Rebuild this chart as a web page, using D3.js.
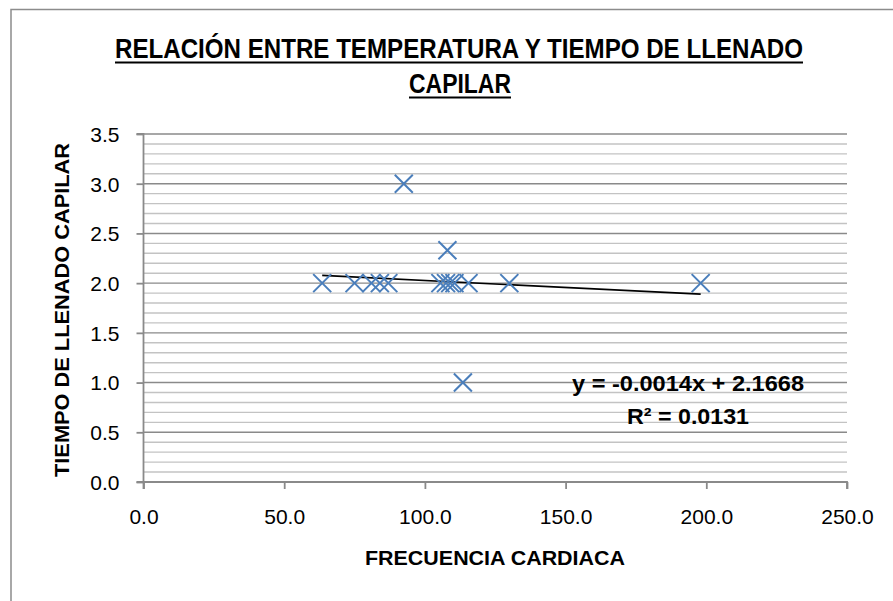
<!DOCTYPE html>
<html><head><meta charset="utf-8">
<script src="https://cdn.jsdelivr.net/npm/d3@7"></script>
<style>html,body{margin:0;padding:0;background:#fff;}svg{display:block;}</style>
</head><body>
<svg id="c" width="893" height="601"></svg>
<script>
const frecuencia = [63.5, 75, 81, 84, 87, 92.5, 105.5, 107.5, 108, 109, 110.5, 113.5, 115.5, 130, 198];
const tiempo     = [2.0, 2.0, 2.0, 2.0, 2.0, 3.0, 2.0, 2.0, 2.33, 2.0, 2.0, 1.0, 2.0, 2.0, 2.0];
const xTicks = [0, 50, 100, 150, 200, 250];
const yTicks = [0, 0.5, 1.0, 1.5, 2.0, 2.5, 3.0, 3.5];
const yMinor = d3.range(0, 35.5, 1).map(v => v / 10);
const trendSlope = -0.0014, trendIntercept = 2.1668, rSquared = 0.0131;
const titleLines = ["RELACIÓN ENTRE TEMPERATURA Y TIEMPO DE LLENADO", "CAPILAR"];
const xTitle = "FRECUENCIA CARDIACA";
const yTitle = "TIEMPO DE LLENADO CAPILAR";

const svg = d3.select("#c");
const L = 143.5, R = 847, T = 134, B = 482;
const x = d3.scaleLinear().domain([0, 250]).range([L, R]);
const y = d3.scaleLinear().domain([0, 3.5]).range([B, T]);
const font = "'Liberation Sans', Arial, sans-serif";

// chart frame
svg.append("rect").attr("x", 11).attr("y", 9.5).attr("width", 900).attr("height", 620)
  .attr("fill", "#fff").attr("stroke", "#8c8c8c").attr("stroke-width", 1.5);

// minor gridlines
svg.append("g").selectAll("line").data(yMinor.filter(v => Math.round(v*10) % 5 !== 0)).join("line")
  .attr("x1", L).attr("x2", R).attr("y1", d => y(d)).attr("y2", d => y(d))
  .attr("stroke", "#c3c3c3").attr("stroke-width", 1.4);
// major gridlines
svg.append("g").selectAll("line").data(yTicks.filter(v => v > 0)).join("line")
  .attr("x1", L).attr("x2", R).attr("y1", d => y(d)).attr("y2", d => y(d))
  .attr("stroke", "#8a8a8a").attr("stroke-width", 1.4);

// axes
const xAxis = svg.append("g").attr("transform", `translate(0,${B})`)
  .call(d3.axisBottom(x).tickValues(xTicks).tickFormat(d3.format(".1f")).tickSize(7).tickPadding(20));
const yAxis = svg.append("g").attr("transform", `translate(${L},0)`)
  .call(d3.axisLeft(y).tickValues(yTicks).tickFormat(d3.format(".1f")).tickSize(7).tickPadding(17));
[xAxis, yAxis].forEach(a => {
  a.select(".domain").attr("stroke", "#8a8a8a").attr("stroke-width", 1.8);
  a.selectAll(".tick line").attr("stroke", "#8a8a8a").attr("stroke-width", 1.8);
  a.selectAll(".tick text").attr("font-family", font).attr("font-size", 21).attr("fill", "#000");
});
xAxis.select(".domain").attr("d", `M${L},7V0H${R}V7`);
yAxis.select(".domain").attr("d", `M-7,${T}H0V${B}H-7`);
yAxis.selectAll(".tick text").attr("dy", "0.35em");

// trendline
const xMin = d3.min(frecuencia), xMax = d3.max(frecuencia);
svg.append("line")
  .attr("x1", x(xMin)).attr("y1", y(trendIntercept + trendSlope * xMin))
  .attr("x2", x(xMax)).attr("y2", y(trendIntercept + trendSlope * xMax))
  .attr("stroke", "#000").attr("stroke-width", 1.6);

// markers
const s = 9;
const pts = frecuencia.map((f, i) => [f, tiempo[i]]);
svg.append("g").selectAll("path").data(pts).join("path")
  .attr("d", d => { const cx = x(d[0]), cy = y(d[1]);
    return `M${cx-s},${cy-s}L${cx+s},${cy+s}M${cx-s},${cy+s}L${cx+s},${cy-s}`; })
  .attr("stroke", "#4a7ebb").attr("stroke-width", 2).attr("fill", "none");

// title
const title = svg.append("g").attr("font-family", font).attr("font-weight", "bold").attr("fill", "#000");
title.append("text").attr("x", 459).attr("y", 58).attr("text-anchor", "middle").attr("font-size", 27)
  .attr("textLength", 688).attr("lengthAdjust", "spacingAndGlyphs").text(titleLines[0]);
title.append("text").attr("x", 460).attr("y", 93).attr("text-anchor", "middle").attr("font-size", 27)
  .attr("textLength", 102).attr("lengthAdjust", "spacingAndGlyphs").text(titleLines[1]);
title.append("line").attr("x1", 115).attr("x2", 803).attr("y1", 62.5).attr("y2", 62.5).attr("stroke", "#000").attr("stroke-width", 2);
title.append("line").attr("x1", 409).attr("x2", 511).attr("y1", 97.5).attr("y2", 97.5).attr("stroke", "#000").attr("stroke-width", 2);

// axis titles
svg.append("text").attr("x", 495).attr("y", 565).attr("text-anchor", "middle")
  .attr("font-family", font).attr("font-weight", "bold").attr("font-size", 20)
  .attr("textLength", 260).attr("lengthAdjust", "spacingAndGlyphs").text(xTitle);
svg.append("text").attr("transform", "translate(69,310) rotate(-90)").attr("text-anchor", "middle")
  .attr("font-family", font).attr("font-weight", "bold").attr("font-size", 21)
  .attr("textLength", 334).attr("lengthAdjust", "spacingAndGlyphs").text(yTitle);

// equation
const eq = svg.append("g").attr("font-family", font).attr("font-weight", "bold").attr("font-size", 22).attr("fill", "#000");
eq.append("text").attr("x", 688).attr("y", 391).attr("text-anchor", "middle")
  .attr("textLength", 232).attr("lengthAdjust", "spacingAndGlyphs")
  .text(`y = ${trendSlope.toFixed(4)}x + ${trendIntercept.toFixed(4)}`);
eq.append("text").attr("x", 688).attr("y", 424).attr("text-anchor", "middle")
  .attr("textLength", 122).attr("lengthAdjust", "spacingAndGlyphs")
  .text(`R² = ${rSquared.toFixed(4)}`);
</script>
</body></html>
